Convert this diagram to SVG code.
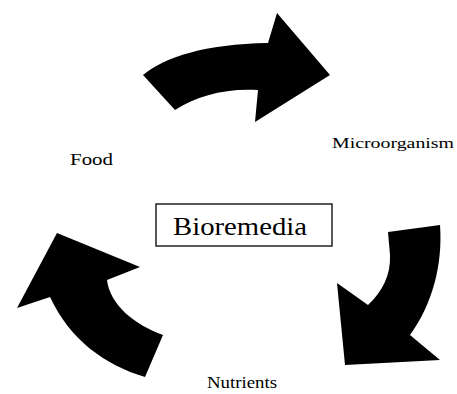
<svg xmlns="http://www.w3.org/2000/svg" width="457" height="394" viewBox="0 0 457 394">
<style>
.arrow{fill:#000;stroke:none}
.lbl{font-family:"Liberation Serif","Times New Roman",serif;fill:#000}
.box{fill:#fff;stroke:#222;stroke-width:1.5}
</style>
<rect width="457" height="394" fill="#fff"/>
<g id="connectors">
<path class="arrow" d="M143,75 C165,57 205,44 268,43 L277,13 L330,75 L255,122 L258,90 C225,88 197,96 175,110 Z"/>
<path class="arrow" d="M388,232 L440,225 C443,265 432,305 410,335 L440,360 L345,365 L337,283 L368,305 C382,292 391,275 390,255 Z"/>
<path class="arrow" d="M57,233 L140,267 L107,280 C110,305 135,325 163,335 L145,377 C105,365 70,340 50,297 L17,308 Z"/>
</g>
<g id="food"><text class="lbl" x="70" y="165" font-size="17" textLength="43" lengthAdjust="spacingAndGlyphs">Food</text></g>
<g id="microorganism"><text class="lbl" x="332" y="148" font-size="15" textLength="122" lengthAdjust="spacingAndGlyphs">Microorganism</text></g>
<g id="nutrients"><text class="lbl" x="207" y="388" font-size="16" textLength="70" lengthAdjust="spacingAndGlyphs">Nutrients</text></g>
<g id="bioremedia">
<rect class="box" x="156" y="204" width="176" height="42"/>
<text class="lbl" x="173" y="235" font-size="26" textLength="134" lengthAdjust="spacingAndGlyphs">Bioremedia</text>
</g>
</svg>
